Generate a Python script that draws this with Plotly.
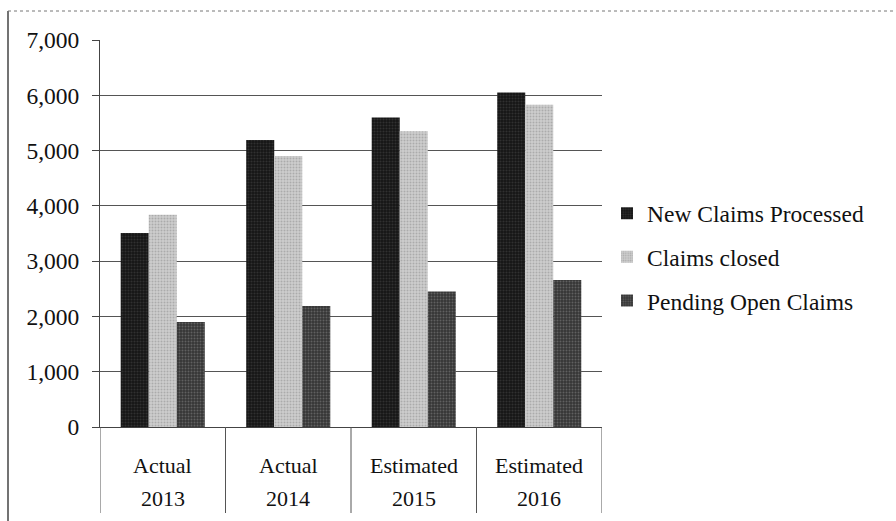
import plotly.graph_objects as go

# Claims volume by year: actual for 2013-2014, estimated for 2015-2016
years = ["2013", "2014", "2015", "2016"]
basis = ["Actual", "Actual", "Estimated", "Estimated"]

new_claims = [3510, 5190, 5600, 6050]
claims_closed = [3840, 4900, 5350, 5830]
pending_open = [1900, 2190, 2450, 2660]

# name, values, base fill, speckle colour
series = [
    ("New Claims Processed", new_claims, "#161616", "#4a4a4a"),
    ("Claims closed", claims_closed, "#cdcdcd", "#8a8a8a"),
    ("Pending Open Claims", pending_open, "#353535", "#8c8c8c"),
]

y_ticks = [0, 1000, 2000, 3000, 4000, 5000, 6000, 7000]

FONT = "Liberation Serif"
FS = 23.5
FS_CAT = 22

W, H = 896, 521
L, R, T, B = 100, 294, 40, 94
pw, ph = W - L - R, H - T - B


def px_x(px):
    return (px - L) / pw


def px_y(py):
    return (H - B - py) / ph


fig = go.Figure()
for i, (name, vals, color, speck) in enumerate(series):
    fig.add_trace(go.Bar(
        x=list(range(len(years))),
        y=vals,
        name=name,
        legendgroup=f"g{i}",
        marker=dict(color=color, line=dict(width=0),
                    pattern=dict(shape=".", fgcolor=speck, bgcolor=color,
                                 size=3, solidity=0.35)),
    ))

# Two-row category labels under the axis
annotations = []
for i, (b, yr) in enumerate(zip(basis, years)):
    annotations.append(dict(x=i, y=px_y(465), xref="x", yref="paper", text=b,
                            showarrow=False, yanchor="middle",
                            font=dict(family=FONT, size=FS_CAT, color="#111")))
    annotations.append(dict(x=i, y=px_y(498), xref="x", yref="paper", text=yr,
                            showarrow=False, yanchor="middle",
                            font=dict(family=FONT, size=FS_CAT, color="#111")))

# Category separators extending below the axis
shapes = []
for k in range(len(years) + 1):
    shapes.append(dict(type="line", xref="x", yref="paper",
                       x0=k - 0.5, x1=k - 0.5, y0=0, y1=px_y(513),
                       line=dict(color="#555", width=1)))

# Outer chart frame (left and top edges)
shapes.append(dict(type="line", xref="paper", yref="paper",
                   x0=px_x(8), x1=px_x(8), y0=px_y(11), y1=px_y(530),
                   line=dict(color="#444", width=1.5)))
shapes.append(dict(type="line", xref="paper", yref="paper",
                   x0=px_x(8), x1=px_x(905), y0=px_y(11), y1=px_y(11),
                   line=dict(color="#777", width=1, dash="dot")))

fig.update_layout(
    width=W, height=H,
    margin=dict(l=L, r=R, t=T, b=B, pad=0),
    paper_bgcolor="white", plot_bgcolor="white",
    barmode="group", bargap=0.33, bargroupgap=0,
    font=dict(family=FONT, size=FS, color="#111"),
    showlegend=True,
    legend=dict(x=px_x(607), xanchor="left", y=px_y(257), yanchor="middle",
                tracegroupgap=10, font=dict(family=FONT, size=FS, color="#111"),
                bgcolor="rgba(0,0,0,0)", itemclick=False),
    annotations=annotations,
    shapes=shapes,
)

fig.update_xaxes(
    range=[-0.5, len(years) - 0.5],
    showticklabels=False, ticks="",
    showline=True, linecolor="#444", linewidth=1,
    showgrid=False, zeroline=False,
)
fig.update_yaxes(
    range=[0, 7000], tickvals=y_ticks, tickformat=",",
    ticks="outside", ticklen=7, tickcolor="#444",
    ticklabelstandoff=8,
    showline=True, linecolor="#444", linewidth=1,
    showgrid=True, gridcolor="#555", gridwidth=1,
    zeroline=False,
    tickfont=dict(family=FONT, size=FS, color="#111"),
)

fig.write_html("out.html")
